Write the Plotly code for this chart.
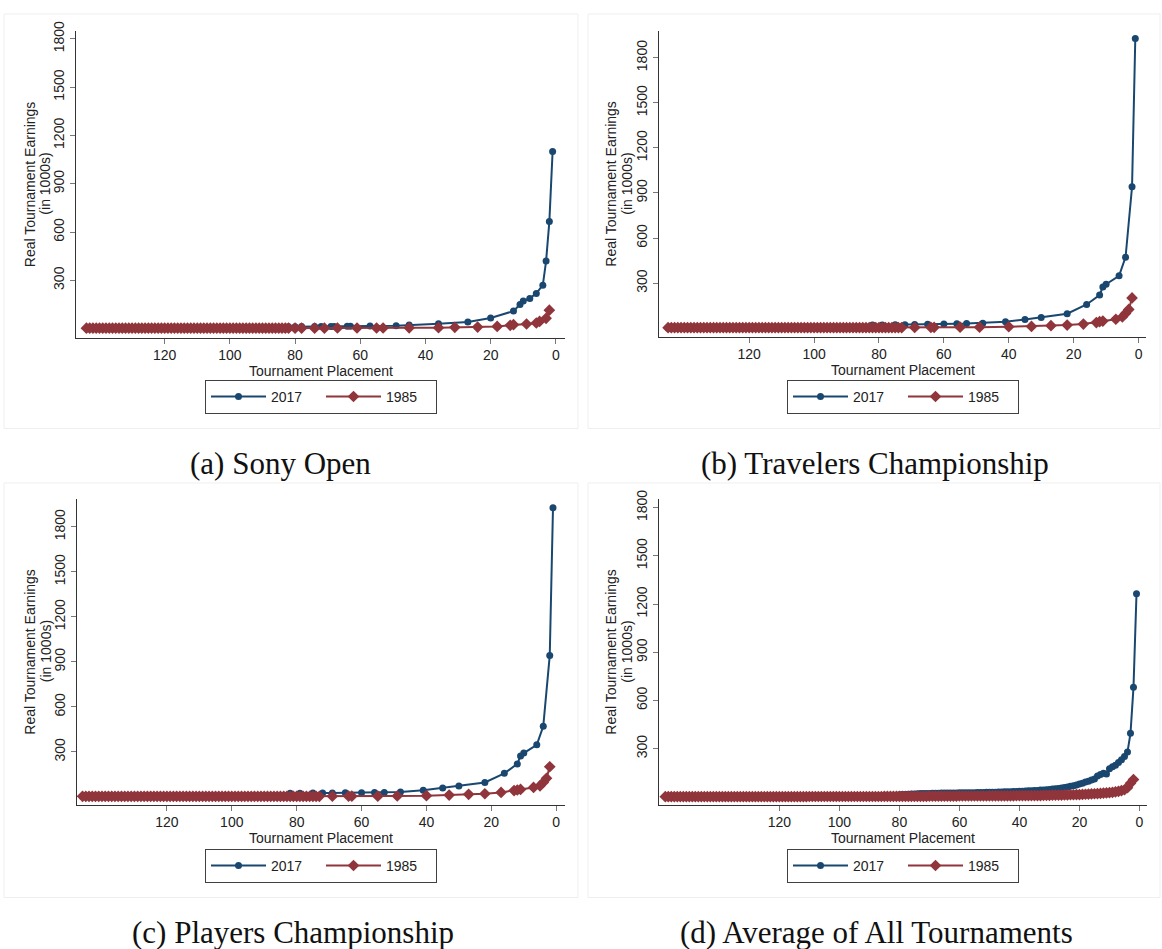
import plotly.graph_objects as go

W, H = 1162, 949

# ---------------- data (real tournament earnings, in 1000s) ----------------
# (a) Sony Open
a_2017_place = [1, 2, 3, 4, 6, 8, 10, 11, 13, 20, 27, 36, 45, 49, 57, 63, 64, 68, 69, 72, 74, 78, 80, 82]
a_2017_earn = [1101, 665, 420, 270, 219, 188, 172, 150, 109, 66, 42, 31, 22, 18, 17, 15, 15, 14, 14, 14, 13, 13, 12, 12]
a_1985_place = [2, 3, 5, 6, 9, 13, 14, 18, 24, 31, 36, 45, 53, 55, 61, 67, 71, 74, 78, 80,
                82, 83, 84, 85, 86, 87, 88, 89, 90, 91, 92, 93, 94, 95, 96, 97, 98, 99, 100, 101,
                102, 103, 104, 105, 106, 107, 108, 109, 110, 111, 112, 113, 114, 115, 116, 117, 118, 119, 120, 121,
                122, 123, 124, 125, 126, 127, 128, 129, 130, 131, 132, 133, 134, 135, 136, 137, 138, 139, 140, 141,
                142, 143, 144]
a_1985_earn = [115, 64, 45, 35, 29, 25, 21, 14, 10, 8, 6, 5, 4, 4, 4, 4, 3, 3, 3, 3,
               3, 3, 3, 3, 3, 3, 3, 3, 3, 3, 3, 3, 3, 3, 3, 3, 3, 3, 3, 3,
               3, 3, 3, 3, 3, 3, 3, 3, 3, 3, 3, 3, 3, 3, 3, 3, 3, 3, 3, 3,
               3, 3, 3, 3, 3, 3, 3, 3, 3, 3, 3, 3, 3, 3, 3, 3, 3, 3, 3, 3,
               3, 3, 3]

# (b) Travelers Championship
b_2017_place = [1, 2, 4, 6, 10, 11, 12, 16, 22, 30, 35, 41, 48, 53, 56, 60, 65, 69, 72, 75, 79, 82, 145]
b_2017_earn = [1927, 941, 473, 349, 293, 275, 221, 158, 97, 71, 58, 43, 34, 31, 30, 28, 26, 25, 24, 23, 22, 21, 2]
b_1985_place = [2, 3, 4, 5, 7, 11, 12, 13, 17, 22, 27, 33, 40, 49, 55, 63, 64, 69,
                73, 74, 75, 76, 77, 78, 79, 80, 81, 82, 83, 84, 85, 86, 87, 88, 89, 90,
                91, 92, 93, 94, 95, 96, 97, 98, 99, 100, 101, 102, 103, 104, 105, 106, 107, 108,
                109, 110, 111, 112, 113, 114, 115, 116, 117, 118, 119, 120, 121, 122, 123, 124, 125, 126,
                127, 128, 129, 130, 131, 132, 133, 134, 135, 136, 137, 138, 139, 140, 141, 142, 143, 144,
                145]
b_1985_earn = [202, 125, 99, 75, 60, 48, 44, 38, 28, 21, 17, 12, 10, 7, 7, 6, 6, 5,
               4, 4, 4, 4, 4, 4, 4, 4, 4, 4, 4, 4, 4, 4, 4, 4, 4, 4,
               4, 4, 4, 4, 4, 4, 4, 4, 4, 4, 4, 4, 4, 4, 4, 4, 4, 4,
               4, 4, 4, 4, 4, 4, 4, 4, 4, 4, 4, 4, 4, 4, 4, 4, 4, 4,
               4, 4, 4, 4, 4, 4, 4, 4, 4, 4, 4, 4, 4, 4, 4, 4, 4, 4,
               4]

# (c) Players Championship
c_2017_place = [1, 2, 4, 6, 10, 11, 12, 16, 22, 30, 35, 41, 48, 53, 56, 60, 65, 69, 72, 75, 79, 82, 146]
c_2017_earn = [1927, 943, 471, 347, 292, 273, 220, 157, 96, 72, 60, 44, 33, 30, 29, 28, 27, 26, 26, 26, 25, 25, 2]
c_1985_place = [2, 3, 4, 5, 7, 11, 12, 13, 17, 22, 27, 33, 40, 49, 55, 63, 64, 69,
                73, 74, 75, 76, 77, 78, 79, 80, 81, 82, 83, 84, 85, 86, 87, 88, 89, 90,
                91, 92, 93, 94, 95, 96, 97, 98, 99, 100, 101, 102, 103, 104, 105, 106, 107, 108,
                109, 110, 111, 112, 113, 114, 115, 116, 117, 118, 119, 120, 121, 122, 123, 124, 125, 126,
                127, 128, 129, 130, 131, 132, 133, 134, 135, 136, 137, 138, 139, 140, 141, 142, 143, 144,
                145, 146]
c_1985_earn = [201, 124, 96, 74, 63, 50, 46, 42, 30, 21, 17, 12, 8, 6, 5, 5, 5, 5,
               4, 4, 4, 4, 4, 4, 4, 4, 4, 4, 4, 4, 4, 4, 4, 4, 4, 4,
               4, 4, 4, 4, 4, 4, 4, 4, 4, 4, 4, 4, 4, 4, 4, 4, 4, 4,
               4, 4, 4, 4, 4, 4, 4, 4, 4, 4, 4, 4, 4, 4, 4, 4, 4, 4,
               4, 4, 4, 4, 4, 4, 4, 4, 4, 4, 4, 4, 4, 4, 4, 4, 4, 4,
               4, 4]

# (d) Average of all tournaments
d_2017_place = [1, 2, 3, 4, 5, 6, 7, 8, 9, 10, 11, 12, 13, 14, 15, 16, 17, 18, 19, 20,
                21, 22, 23, 24, 25, 26, 27, 28, 29, 30, 31, 32, 33, 34, 35, 36, 37, 38, 39, 40,
                41, 42, 43, 44, 45, 46, 47, 48, 49, 50, 51, 52, 53, 54, 55, 56, 57, 58, 59, 60,
                61, 62, 63, 64, 65, 66, 67, 68, 69, 70, 71, 72, 73, 74, 75, 76, 77, 78, 79, 80]
d_2017_earn = [1264, 682, 396, 280, 252, 232, 214, 198, 188, 176, 143, 147, 140, 131, 112, 106, 98, 93, 86, 80,
               75, 70, 66, 62, 59, 56, 53, 51, 49, 47, 45, 44, 43, 41, 40, 39, 38, 37, 36, 35,
               34, 34, 33, 32, 32, 31, 31, 30, 30, 29, 29, 28, 28, 28, 27, 27, 27, 26, 26, 26,
               25, 25, 25, 24, 24, 24, 23, 23, 23, 22, 22, 21, 21, 20, 19, 18, 17, 16, 15, 14]
d_1985_place = [2, 3, 4, 5, 6, 7, 8, 9, 10, 11, 12, 13, 14, 15, 16, 17, 18, 19, 20,
                21, 22, 23, 24, 25, 26, 27, 28, 29, 30, 31, 32, 33, 34, 35, 36, 37, 38, 39, 40,
                41, 42, 43, 44, 45, 46, 47, 48, 49, 50, 51, 52, 53, 54, 55, 56, 57, 58, 59, 60,
                61, 62, 63, 64, 65, 66, 67, 68, 69, 70, 71, 72, 73, 74, 75, 76, 77, 78, 79, 80,
                81, 82, 83, 84, 85, 86, 87, 88, 89, 90, 91, 92, 93, 94, 95, 96, 97, 98, 99, 100,
                101, 102, 103, 104, 105, 106, 107, 108, 109, 110, 111, 112, 113, 114, 115, 116, 117, 118, 119, 120,
                121, 122, 123, 124, 125, 126, 127, 128, 129, 130, 131, 132, 133, 134, 135, 136, 137, 138, 139, 140,
                141, 142, 143, 144, 145, 146, 147, 148, 149, 150, 151, 152, 153, 154, 155, 156, 157, 158]
d_1985_earn = [108, 85, 58, 45, 40, 35, 32, 29, 27, 25, 24, 22, 21, 20, 19, 18, 17, 16, 15,
               15, 14, 14, 13, 13, 12, 12, 11, 11, 10, 10, 10, 9, 9, 9, 9, 8, 8, 8, 8,
               8, 7, 7, 7, 7, 7, 7, 7, 7, 7, 6, 6, 6, 6, 6, 6, 6, 6, 6, 6,
               5, 5, 5, 5, 5, 5, 5, 5, 5, 5, 4, 4, 4, 4, 4, 4, 4, 4, 4, 4,
               4, 4, 4, 4, 4, 3, 3, 3, 3, 3, 3, 3, 3, 3, 3, 3, 3, 3, 3, 3,
               3, 3, 3, 3, 3, 3, 3, 3, 3, 3, 2, 2, 2, 2, 2, 2, 2, 2, 2, 2,
               2, 2, 2, 2, 2, 2, 2, 2, 2, 2, 2, 2, 2, 2, 2, 2, 2, 2, 2, 2,
               2, 2, 2, 2, 2, 2, 2, 2, 2, 2, 2, 2, 2, 2, 2, 2, 2, 2]

x_ticks = [0, 20, 40, 60, 80, 100, 120]
y_ticks = [300, 600, 900, 1200, 1500, 1800]
series_names = ["2017", "1985"]
captions = ["(a) Sony Open", "(b) Travelers Championship",
            "(c) Players Championship", "(d) Average of All Tournaments"]

BLUE = "#1a476f"
RED = "#90353b"
SANS = "Liberation Sans, Arial, sans-serif"
SERIF = "Liberation Serif, Times New Roman, serif"

panels = [
    dict(p17=a_2017_place, e17=a_2017_earn, p85=a_1985_place, e85=a_1985_earn,
         px=(76, 565), py=(21, 331), xr=[147.2, -2.8], yr=[-55, 1850],
         legend=(321, 391), cap=(280, 458), ytx=(30, 45.5)),
    dict(p17=b_2017_place, e17=b_2017_earn, p85=b_1985_place, e85=b_1985_earn,
         px=(659, 1146), py=(21, 330), xr=[147.8, -2.3], yr=[-55, 1979],
         legend=(903, 391), cap=(875, 458), ytx=(611, 627)),
    dict(p17=c_2017_place, e17=c_2017_earn, p85=c_1985_place, e85=c_1985_earn,
         px=(77, 565), py=(494, 803), xr=[147.7, -2.7], yr=[-51, 1987],
         legend=(321, 865), cap=(293, 932), ytx=(30, 45.5)),
    dict(p17=d_2017_place, e17=d_2017_earn, p85=d_1985_place, e85=d_1985_earn,
         px=(659, 1147), py=(494, 803), xr=[160.1, -2.5], yr=[-47, 1855],
         legend=(903, 865), cap=(876, 932), ytx=(611, 627)),
]

fig = go.Figure()
layout = dict(
    width=W, height=H, margin=dict(l=0, r=0, t=0, b=0),
    paper_bgcolor="white", plot_bgcolor="white",
    font=dict(family=SANS, size=14, color="#222"),
    annotations=[], shapes=[],
)

def px2x(v):
    return v / W

def px2y(v):
    return 1 - v / H

for i, p in enumerate(panels):
    n = "" if i == 0 else str(i + 1)
    leg = "legend" + n
    fig.add_trace(go.Scatter(
        x=p["p17"], y=p["e17"], mode="lines+markers", name=series_names[0],
        line=dict(color=BLUE, width=2), marker=dict(symbol="circle", size=7, color=BLUE),
        xaxis="x" + n, yaxis="y" + n, legend=leg))
    fig.add_trace(go.Scatter(
        x=p["p85"], y=p["e85"], mode="lines+markers", name=series_names[1],
        line=dict(color=RED, width=2), marker=dict(symbol="diamond", size=9, color=RED),
        xaxis="x" + n, yaxis="y" + n, legend=leg))

    layout["xaxis" + n] = dict(
        domain=[px2x(p["px"][0]), px2x(p["px"][1])], range=p["xr"], anchor="y" + n,
        tickvals=x_ticks, ticks="outside", ticklen=5, tickcolor="#777", tickwidth=1,
        showline=True, linecolor="#333", linewidth=1, showgrid=False, zeroline=False,
        tickfont=dict(size=14, color="#222", family=SANS), fixedrange=True)
    layout["yaxis" + n] = dict(
        domain=[px2y(p["py"][1]), px2y(p["py"][0])], range=p["yr"], anchor="x" + n,
        tickvals=y_ticks, ticks="outside", ticklen=5, tickcolor="#777", tickwidth=1,
        tickangle=-90, showline=True, linecolor="#333", linewidth=1, showgrid=False,
        zeroline=False, tickfont=dict(size=14, color="#222", family=SANS), fixedrange=True)

    layout[leg] = dict(
        orientation="h", x=px2x(p["legend"][0]), y=px2y(p["legend"][1]),
        xanchor="center", yanchor="middle", bgcolor="white",
        bordercolor="#404040", borderwidth=1, itemwidth=55, entrywidth=45,
        font=dict(size=14, color="#222", family=SANS))

    xc = (p["px"][0] + p["px"][1]) / 2
    yc = (p["py"][0] + p["py"][1]) / 2
    # x-axis title
    layout["annotations"].append(dict(
        text="Tournament Placement", x=px2x(xc), y=px2y(p["py"][1] + 34),
        xref="paper", yref="paper", showarrow=False, xanchor="center", yanchor="middle",
        font=dict(size=14, color="#222", family=SANS)))
    # y-axis title (two lines)
    layout["annotations"].append(dict(
        text="Real Tournament Earnings", x=px2x(p["ytx"][0]), y=px2y(yc),
        xref="paper", yref="paper", showarrow=False, textangle=-90,
        xanchor="center", yanchor="middle", font=dict(size=14, color="#222", family=SANS)))
    layout["annotations"].append(dict(
        text="(in 1000s)", x=px2x(p["ytx"][1]), y=px2y(yc),
        xref="paper", yref="paper", showarrow=False, textangle=-90,
        xanchor="center", yanchor="middle", font=dict(size=14, color="#222", family=SANS)))
    # caption
    layout["annotations"].append(dict(
        text=captions[i], x=px2x(p["cap"][0]), y=px2y(p["cap"][1]),
        xref="paper", yref="paper", showarrow=False, xanchor="center", yanchor="middle",
        font=dict(size=31, color="#111", family=SERIF)))

# faint frames around each graph image
for (x0, y0, x1, y1) in [(4, 4, 578, 423), (588, 4, 1160, 423), (4, 478, 578, 897), (588, 478, 1160, 897)]:
    layout["shapes"].append(dict(
        type="rect", xref="paper", yref="paper",
        x0=px2x(x0), x1=px2x(x1), y0=px2y(y1), y1=px2y(y0),
        line=dict(color="#efefef", width=1), layer="below"))

fig.update_layout(**layout)
fig.update_layout(showlegend=True)
fig.write_html("out.html")
